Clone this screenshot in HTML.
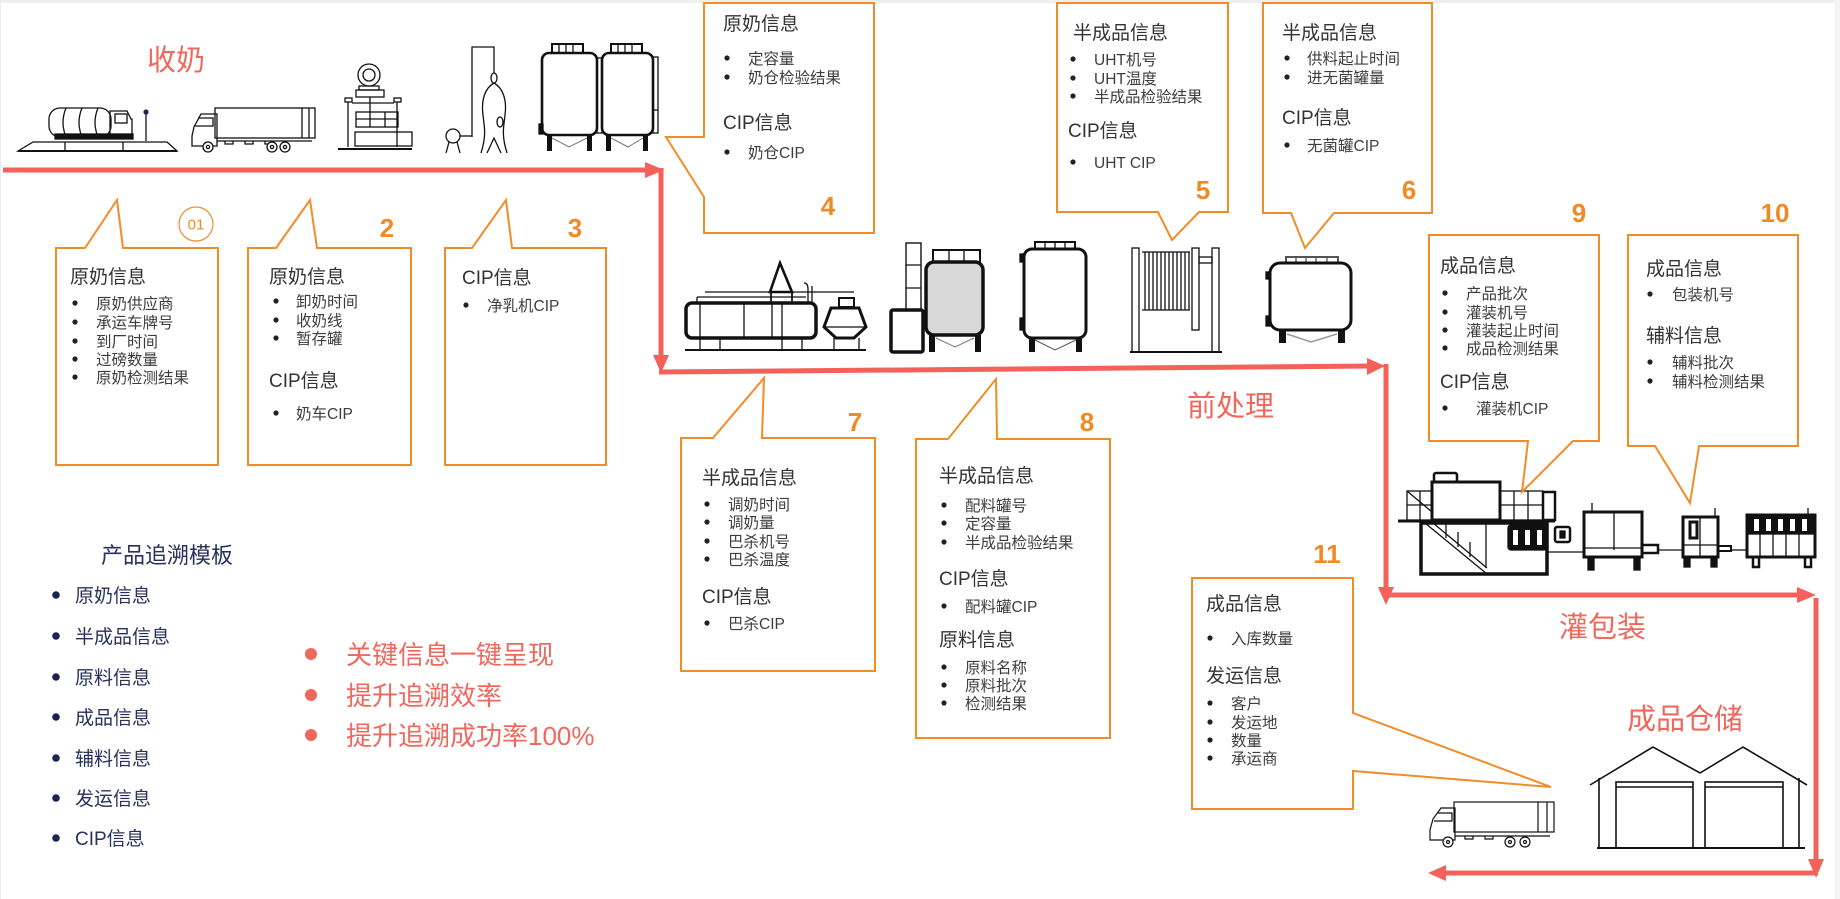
<!DOCTYPE html>
<html lang="zh">
<head>
<meta charset="utf-8">
<style>
html,body{margin:0;padding:0;background:#fff;}
body{width:1840px;height:899px;overflow:hidden;}
svg{display:block;}
.h{font-size:19px;fill:#333;}
.i{font-size:15.5px;fill:#3d3d3d;}
.n{font-size:26px;font-weight:bold;fill:#f08a24;font-family:"Liberation Sans",sans-serif;}
.st{font-size:29px;fill:#f0675c;}
.nv{font-size:19px;fill:#27315c;}
.rd{font-size:26px;fill:#f0675c;}
</style>
</head>
<body>
<svg width="1840" height="899" viewBox="0 0 1840 899" xmlns="http://www.w3.org/2000/svg" font-family="'Liberation Sans','Noto Sans CJK SC',sans-serif">
<rect x="0" y="0" width="1840" height="899" fill="#fff"/>
<rect x="0" y="0" width="1840" height="3" fill="#efefef"/>
<rect x="0" y="0" width="1" height="899" fill="#ececec"/>
<rect x="1835" y="0" width="5" height="899" fill="#f4f4f4"/>

<!-- ============ ROW 1 ICONS ============ -->
<g stroke="#111" fill="none" stroke-width="1.3">
  <!-- tanker on weighbridge -->
  <path d="M18,151 L33,142 L167,142 L177,151 Z"/>
  <line x1="18" y1="151" x2="177" y2="151" stroke-width="2"/>
  <line x1="65" y1="142" x2="65" y2="151"/><line x1="123" y1="142" x2="123" y2="151"/>
  <rect x="49" y="108" width="62" height="29" rx="11"/>
  <path d="M66,108 q-6,14.5 0,29 M82,108 q-6,14.5 0,29 M98,108 q-6,14.5 0,29"/>
  <path d="M110,137 L110,111 L127,111 L131,119 L132,119 L132,137"/>
  <rect x="115" y="114" width="12" height="9"/>
  <rect x="55" y="134" width="78" height="5" fill="#111"/>
  <line x1="146" y1="114" x2="146" y2="141"/>
  <circle cx="146" cy="112" r="2.6" fill="#1f2750" stroke="none"/>
  <!-- box truck -->
  <rect x="215" y="108" width="100" height="30"/>
  <line x1="302" y1="108" x2="302" y2="138"/><line x1="309" y1="108" x2="309" y2="138"/>
  <path d="M217,114 L201,114 L194,127 L192,136 L192,146 L217,146 Z"/>
  <path d="M198,118 L213,118 L213,126 L195,126"/>
  <line x1="217" y1="141" x2="312" y2="141"/>
  <path d="M225,141 v3 h8 v-3 M245,141 v3 h8 v-3 M265,141 v3 h8 v-3"/>
  <circle cx="208" cy="147" r="5" fill="#fff"/><circle cx="208" cy="147" r="1.6"/>
  <circle cx="272" cy="147" r="5" fill="#fff"/><circle cx="272" cy="147" r="1.6"/>
  <circle cx="285" cy="147" r="5" fill="#fff"/><circle cx="285" cy="147" r="1.6"/>
  <!-- scale device -->
  <circle cx="369" cy="75" r="11"/><circle cx="369" cy="75" r="6"/>
  <rect x="359" y="86" width="20" height="4"/>
  <rect x="356" y="90" width="28" height="7"/>
  <rect x="345" y="98" width="7" height="4"/><rect x="394" y="98" width="7" height="4"/>
  <line x1="348" y1="102" x2="348" y2="147"/><line x1="397" y1="102" x2="397" y2="147"/>
  <line x1="352" y1="103" x2="394" y2="103"/>
  <line x1="370" y1="97" x2="370" y2="112"/>
  <rect x="356" y="112" width="42" height="15"/>
  <line x1="370" y1="112" x2="370" y2="127"/><line x1="385" y1="112" x2="385" y2="127"/>
  <line x1="356" y1="119" x2="398" y2="119"/>
  <rect x="355" y="132" width="57" height="14"/>
  <line x1="338" y1="149" x2="412" y2="149" stroke-width="2"/>
  <!-- separator -->
  <path d="M472,137 L472,47 L494,47 L494,73"/>
  <ellipse cx="494" cy="78" rx="3" ry="5"/>
  <path d="M494,83 C485,88 481,100 483,115 C484,126 487,134 481,153"/>
  <path d="M494,83 C503,88 507,100 505,115 C504,126 501,134 507,153"/>
  <path d="M487,153 L494,138 L501,153"/>
  <ellipse cx="500" cy="122" rx="3" ry="5"/>
  <circle cx="453" cy="136" r="7"/>
  <line x1="449" y1="142" x2="446" y2="153"/><line x1="457" y1="142" x2="460" y2="153"/>
  <line x1="460" y1="136" x2="472" y2="136"/>
  <!-- two tanks -->
  <rect x="552" y="44" width="31" height="9" stroke-width="2"/>
  <path d="M559,44 v9 M566,44 v9 M573,44 v9"/>
  <rect x="542" y="53" width="55" height="82" rx="7" stroke-width="2.6"/>
  <rect x="539" y="124" width="4" height="10" fill="#111"/>
  <rect x="597" y="58" width="5" height="75"/>
  <rect x="547" y="135" width="5" height="16" fill="#111" stroke="none"/>
  <rect x="587" y="135" width="5" height="16" fill="#111" stroke="none"/>
  <path d="M552,138 L569,147 L587,138" stroke="#777" stroke-width="1"/>
  <rect x="611" y="44" width="31" height="9" stroke-width="2"/>
  <path d="M618,44 v9 M625,44 v9 M632,44 v9"/>
  <rect x="602" y="53" width="51" height="82" rx="7" stroke-width="2.6"/>
  <rect x="653" y="57" width="5" height="76"/>
  <line x1="653" y1="110" x2="658" y2="110"/>
  <rect x="606" y="135" width="5" height="16" fill="#111" stroke="none"/>
  <rect x="643" y="135" width="5" height="16" fill="#111" stroke="none"/>
  <path d="M611,138 L628,147 L643,138" stroke="#777" stroke-width="1"/>
</g>

<!-- ============ ROW 2 ICONS ============ -->
<g stroke="#111" fill="none" stroke-width="1.3">
  <!-- pasteurizer -->
  <line x1="705" y1="292" x2="854" y2="292"/>
  <line x1="697" y1="297" x2="806" y2="297"/>
  <path d="M697,297 v6 M804,283 q4,0 4,6 v14 M812,286 v17"/>
  <path d="M780,263 L770,292 L792,292 Z" stroke-width="2.6"/>
  <rect x="771" y="292" width="21" height="11" stroke-width="1.8"/>
  <rect x="686" y="303" width="130" height="35" rx="6" stroke-width="3.5"/>
  <path d="M700,303 v35 M744,303 v35 M772,303 v35 M782,303 v35"/>
  <rect x="839" y="298" width="15" height="9" stroke-width="2"/>
  <path d="M831,308 L859,308 L866,327 L854,338 L836,338 L824,327 Z" stroke-width="3"/>
  <line x1="824" y1="327" x2="866" y2="327"/>
  <path d="M700,338 v12 M720,338 v12 M782,338 v12 M802,338 v12 M834,338 v12 M859,338 v12"/>
  <line x1="685" y1="350" x2="866" y2="350" stroke-width="2"/>
  <!-- gray tank with column -->
  <rect x="906" y="243" width="15" height="67" stroke-width="1.4"/>
  <path d="M906,265 h15 M906,288 h15"/>
  <rect x="891" y="310" width="32" height="42" rx="2" stroke-width="3.5"/>
  <rect x="933" y="250" width="47" height="12" stroke-width="2"/>
  <path d="M949,250 v12 M964,250 v12"/>
  <rect x="926" y="262" width="57" height="73" rx="8" fill="#d8d8d8" stroke-width="3.5"/>
  <rect x="929" y="335" width="6" height="17" fill="#111" stroke="none"/>
  <rect x="975" y="335" width="6" height="17" fill="#111" stroke="none"/>
  <path d="M936,338 L955,347 L974,338" stroke="#777" stroke-width="1"/>
  <!-- white tank -->
  <rect x="1035" y="242" width="40" height="7" stroke-width="2"/>
  <path d="M1045,242 v7 M1055,242 v7 M1065,242 v7"/>
  <rect x="1024" y="249" width="62" height="89" rx="8" stroke-width="3"/>
  <rect x="1020" y="254" width="4" height="8" fill="#111"/>
  <rect x="1020" y="318" width="4" height="12" fill="#111"/>
  <rect x="1029" y="338" width="6" height="14" fill="#111" stroke="none"/>
  <rect x="1076" y="338" width="6" height="14" fill="#111" stroke="none"/>
  <path d="M1035,340 L1055,350 L1076,340" stroke="#555" stroke-width="1"/>
  <!-- plate heat exchanger -->
  <rect x="1132" y="248" width="7" height="104"/>
  <rect x="1212" y="248" width="7" height="104"/>
  <rect x="1192" y="248" width="7" height="82"/>
  <rect x="1199" y="257" width="13" height="6"/>
  <path d="M1142,252 h48 M1142,310 h48"/>
  <path d="M1145,252 v58 M1149,252 v58 M1153,252 v58 M1157,252 v58 M1161,252 v58 M1165,252 v58 M1169,252 v58 M1173,252 v58 M1177,252 v58 M1181,252 v58 M1185,252 v58 M1189,252 v58"/>
  <line x1="1130" y1="352" x2="1222" y2="352" stroke-width="2"/>
  <!-- aseptic tank -->
  <rect x="1286" y="257" width="52" height="6" stroke-width="2" stroke="#555"/>
  <path d="M1296,257 v6 M1306,257 v6 M1316,257 v6 M1327,257 v6" stroke="#555"/>
  <rect x="1270" y="263" width="81" height="67" rx="10" stroke-width="3"/>
  <rect x="1266" y="272" width="4" height="7" fill="#111"/>
  <rect x="1266" y="316" width="4" height="10" fill="#111"/>
  <rect x="1279" y="330" width="7" height="13" fill="#111" stroke="none"/>
  <rect x="1338" y="330" width="7" height="13" fill="#111" stroke="none"/>
  <path d="M1287,334 L1311,342 L1337,334" stroke="#999" stroke-width="1.5"/>
</g>

<!-- ============ PACKAGING ICONS ============ -->
<g stroke="#111" fill="none" stroke-width="1.3">
  <rect x="1407" y="491" width="25" height="29"/>
  <path d="M1420,491 v29 M1407,505 h25 M1407,491 L1432,512"/>
  <rect x="1500" y="491" width="43" height="29"/>
  <path d="M1514,491 v29 M1528,491 v29 M1500,505 h43"/>
  <rect x="1434" y="473" width="23" height="9" rx="2" stroke-width="2.5"/>
  <rect x="1432" y="482" width="68" height="38" stroke-width="3"/>
  <rect x="1543" y="492" width="12" height="28" stroke-width="2.5"/>
  <line x1="1398" y1="521" x2="1555" y2="521" stroke-width="3"/>
  <rect x="1421" y="523" width="126" height="51" stroke-width="3.5"/>
  <path d="M1425,523 L1487,574 M1433,523 L1487,568"/>
  <path d="M1446,523 v15 M1458,532 v15 M1470,542 v15 M1486,523 v45"/>
  <rect x="1508" y="525" width="39" height="25" rx="3" fill="#111"/>
  <rect x="1513" y="530" width="5" height="15" fill="#fff" stroke="none"/>
  <rect x="1525" y="530" width="5" height="15" fill="#fff" stroke="none"/>
  <rect x="1537" y="530" width="5" height="15" fill="#fff" stroke="none"/>
  <rect x="1555" y="527" width="15" height="15" rx="2" stroke-width="2.5"/>
  <rect x="1560" y="531" width="5" height="7" fill="#111"/>
  <line x1="1547" y1="552" x2="1585" y2="552"/>
  <!-- machine 2 -->
  <line x1="1592" y1="503" x2="1592" y2="512"/>
  <rect x="1584" y="512" width="58" height="45" stroke-width="3"/>
  <path d="M1614,512 v38 M1584,548 h58"/>
  <rect x="1642" y="545" width="16" height="8" stroke-width="2.5"/>
  <rect x="1588" y="557" width="6" height="13" fill="#111"/>
  <rect x="1634" y="557" width="6" height="13" fill="#111"/>
  <line x1="1658" y1="550" x2="1683" y2="550"/>
  <!-- machine 3 -->
  <line x1="1715" y1="508" x2="1715" y2="517"/>
  <rect x="1683" y="517" width="35" height="40" stroke-width="3"/>
  <rect x="1690" y="522" width="7" height="16" stroke-width="3"/>
  <path d="M1683,545 h35 M1700,517 v40"/>
  <rect x="1718" y="546" width="13" height="5" stroke-width="2"/>
  <rect x="1684" y="557" width="6" height="10" fill="#111"/>
  <rect x="1711" y="557" width="6" height="10" fill="#111"/>
  <line x1="1731" y1="550" x2="1747" y2="550"/>
  <!-- machine 4 -->
  <line x1="1808" y1="508" x2="1808" y2="515"/>
  <rect x="1747" y="515" width="68" height="42" stroke-width="3"/>
  <rect x="1747" y="515" width="68" height="19" fill="#111"/>
  <rect x="1754" y="519" width="5" height="12" fill="#fff" stroke="none"/>
  <rect x="1766" y="519" width="5" height="12" fill="#fff" stroke="none"/>
  <rect x="1778" y="519" width="5" height="12" fill="#fff" stroke="none"/>
  <rect x="1790" y="519" width="5" height="12" fill="#fff" stroke="none"/>
  <rect x="1802" y="519" width="5" height="12" fill="#fff" stroke="none"/>
  <path d="M1760,534 v23 M1773,534 v23 M1786,534 v23 M1799,534 v23"/>
  <rect x="1753" y="557" width="6" height="10" stroke-width="2.5"/>
  <rect x="1805" y="557" width="6" height="10" stroke-width="2.5"/>
</g>

<!-- ============ WAREHOUSE + TRUCK ============ -->
<g stroke="#111" fill="none" stroke-width="1.6">
  <polyline points="1590,785 1653,747 1700,773 1743,747 1807,785"/>
  <path d="M1599,778 V848 M1799,778 V848"/>
  <line x1="1597" y1="848" x2="1805" y2="848" stroke-width="2"/>
  <rect x="1616" y="782" width="77" height="66"/>
  <line x1="1616" y1="787" x2="1693" y2="787"/>
  <rect x="1705" y="782" width="78" height="66"/>
  <line x1="1705" y1="787" x2="1783" y2="787"/>
</g>
<g stroke="#111" fill="none" stroke-width="1.2">
  <rect x="1454" y="802" width="100" height="30"/>
  <path d="M1538,802 v30 M1547,802 v30"/>
  <path d="M1455,808 L1441,808 L1433,819 L1430,830 L1430,840 L1455,840 Z"/>
  <path d="M1437,813 L1452,813 L1452,821 L1434,821"/>
  <line x1="1455" y1="836" x2="1550" y2="836"/>
  <path d="M1465,836 v3 h8 v-3 M1485,836 v3 h8 v-3"/>
  <circle cx="1448" cy="842" r="5" fill="#fff"/><circle cx="1448" cy="842" r="1.5"/>
  <circle cx="1510" cy="842" r="5" fill="#fff"/><circle cx="1510" cy="842" r="1.5"/>
  <circle cx="1525" cy="842" r="5" fill="#fff"/><circle cx="1525" cy="842" r="1.5"/>
</g>

<!-- ============ RED FLOW ARROWS ============ -->
<g stroke="#f4605a" stroke-width="5" fill="none" stroke-linecap="butt">
  <line x1="3" y1="170" x2="650" y2="170"/>
  <line x1="661" y1="168" x2="661" y2="358"/>
  <line x1="659" y1="372" x2="1372" y2="366"/>
  <line x1="1386" y1="364" x2="1386" y2="590"/>
  <line x1="1384" y1="595" x2="1800" y2="595"/>
  <line x1="1816" y1="598" x2="1816" y2="862"/>
  <line x1="1818" y1="873" x2="1442" y2="873"/>
</g>
<g fill="#f4605a">
  <polygon points="645,162 664,170 645,178"/>
  <polygon points="653,355 661,373 669,355"/>
  <polygon points="1367,358 1385,366 1367,375"/>
  <polygon points="1378,587 1386,605 1394,587"/>
  <polygon points="1797,587 1816,595 1797,603"/>
  <polygon points="1808,859 1816,878 1824,859"/>
  <polygon points="1446,865 1428,873 1446,881"/>
</g>

<!-- ============ CALLOUT BOXES ============ -->
<g stroke="#f28c28" stroke-width="2" fill="none" stroke-linejoin="miter">
  <path d="M56,248 L85,248 L117,200 L123,248 L218,248 L218,465 L56,465 Z"/>
  <path d="M248,248 L276,248 L310,200 L317,248 L411,248 L411,465 L248,465 Z"/>
  <path d="M445,248 L472,248 L506,200 L512,248 L606,248 L606,465 L445,465 Z"/>
  <path d="M704,3 L874,3 L874,233 L704,233 L704,197 L666,137 L704,137 Z"/>
  <path d="M1057,3 L1228,3 L1228,212 L1199,212 L1172,240 L1158,212 L1057,212 Z"/>
  <path d="M1263,3 L1432,3 L1432,213 L1334,213 L1305,248 L1291,213 L1263,213 Z"/>
  <path d="M681,438 L713,438 L764,378 L762,438 L875,438 L875,671 L681,671 Z"/>
  <path d="M916,439 L948,439 L996,379 L997,439 L1110,439 L1110,738 L916,738 Z"/>
  <path d="M1429,235 L1599,235 L1599,441 L1573,441 L1522,492 L1528,441 L1429,441 Z"/>
  <path d="M1628,235 L1798,235 L1798,446 L1699,446 L1690,503 L1655,446 L1628,446 Z"/>
  <path d="M1192,578 L1353,578 L1353,713 L1551,787 L1353,771 L1353,809 L1192,809 Z"/>
  <circle cx="196" cy="224" r="17" stroke-width="1.2"/>
</g>

<!-- numbers -->
<text x="196" y="229.5" text-anchor="middle" font-size="15" fill="#f08a24" font-family="'Liberation Sans',sans-serif">01</text>
<text class="n" x="387" y="237" text-anchor="middle">2</text>
<text class="n" x="575" y="237" text-anchor="middle">3</text>
<text class="n" x="828" y="215" text-anchor="middle">4</text>
<text class="n" x="1203" y="199" text-anchor="middle">5</text>
<text class="n" x="1409" y="199" text-anchor="middle">6</text>
<text class="n" x="855" y="431" text-anchor="middle">7</text>
<text class="n" x="1087" y="431" text-anchor="middle">8</text>
<text class="n" x="1579" y="222" text-anchor="middle">9</text>
<text class="n" x="1775" y="222" text-anchor="middle">10</text>
<text class="n" x="1327" y="563" text-anchor="middle">11</text>

<!-- box texts -->
<g fill="#222">
  <!-- box 01 -->
  <circle cx="75" cy="303" r="2.6"/><circle cx="75" cy="322" r="2.6"/><circle cx="75" cy="341" r="2.6"/><circle cx="75" cy="359" r="2.6"/><circle cx="75" cy="377" r="2.6"/>
  <!-- box 2 -->
  <circle cx="276" cy="301" r="2.6"/><circle cx="276" cy="320" r="2.6"/><circle cx="276" cy="338" r="2.6"/><circle cx="276" cy="413" r="2.6"/>
  <!-- box 3 -->
  <circle cx="466" cy="305" r="2.6"/>
  <!-- box 4 -->
  <circle cx="727" cy="58" r="2.6"/><circle cx="727" cy="77" r="2.6"/><circle cx="727" cy="152" r="2.6"/>
  <!-- box 5 -->
  <circle cx="1073" cy="59" r="2.6"/><circle cx="1073" cy="78" r="2.6"/><circle cx="1073" cy="96" r="2.6"/><circle cx="1073" cy="162" r="2.6"/>
  <!-- box 6 -->
  <circle cx="1287" cy="58" r="2.6"/><circle cx="1287" cy="77" r="2.6"/><circle cx="1287" cy="145" r="2.6"/>
  <!-- box 7 -->
  <circle cx="707" cy="504" r="2.6"/><circle cx="707" cy="522" r="2.6"/><circle cx="707" cy="541" r="2.6"/><circle cx="707" cy="559" r="2.6"/><circle cx="707" cy="623" r="2.6"/>
  <!-- box 8 -->
  <circle cx="944" cy="505" r="2.6"/><circle cx="944" cy="523" r="2.6"/><circle cx="944" cy="542" r="2.6"/><circle cx="944" cy="606" r="2.6"/>
  <circle cx="944" cy="667" r="2.6"/><circle cx="944" cy="685" r="2.6"/><circle cx="944" cy="703" r="2.6"/>
  <!-- box 9 -->
  <circle cx="1445" cy="293" r="2.6"/><circle cx="1445" cy="312" r="2.6"/><circle cx="1445" cy="330" r="2.6"/><circle cx="1445" cy="348" r="2.6"/><circle cx="1445" cy="408" r="2.6"/>
  <!-- box 10 -->
  <circle cx="1650" cy="294" r="2.6"/><circle cx="1650" cy="362" r="2.6"/><circle cx="1650" cy="381" r="2.6"/>
  <!-- box 11 -->
  <circle cx="1210" cy="638" r="2.6"/><circle cx="1210" cy="703" r="2.6"/><circle cx="1210" cy="722" r="2.6"/><circle cx="1210" cy="740" r="2.6"/><circle cx="1210" cy="758" r="2.6"/>
</g>

<!-- box 01 -->
<text class="h" x="70" y="283">原奶信息</text>
<text class="i" x="96" y="309">原奶供应商</text>
<text class="i" x="96" y="328">承运车牌号</text>
<text class="i" x="96" y="347">到厂时间</text>
<text class="i" x="96" y="365">过磅数量</text>
<text class="i" x="96" y="383">原奶检测结果</text>
<!-- box 2 -->
<text class="h" x="269" y="283">原奶信息</text>
<text class="i" x="296" y="307">卸奶时间</text>
<text class="i" x="296" y="326">收奶线</text>
<text class="i" x="296" y="344">暂存罐</text>
<text class="h" x="269" y="387">CIP信息</text>
<text class="i" x="296" y="419">奶车CIP</text>
<!-- box 3 -->
<text class="h" x="462" y="284">CIP信息</text>
<text class="i" x="487" y="311">净乳机CIP</text>
<!-- box 4 -->
<text class="h" x="723" y="30">原奶信息</text>
<text class="i" x="748" y="64">定容量</text>
<text class="i" x="748" y="83">奶仓检验结果</text>
<text class="h" x="723" y="129">CIP信息</text>
<text class="i" x="748" y="158">奶仓CIP</text>
<!-- box 5 -->
<text class="h" x="1073" y="39">半成品信息</text>
<text class="i" x="1094" y="65">UHT机号</text>
<text class="i" x="1094" y="84">UHT温度</text>
<text class="i" x="1094" y="102">半成品检验结果</text>
<text class="h" x="1068" y="137">CIP信息</text>
<text class="i" x="1094" y="168">UHT CIP</text>
<!-- box 6 -->
<text class="h" x="1282" y="39">半成品信息</text>
<text class="i" x="1307" y="64">供料起止时间</text>
<text class="i" x="1307" y="83">进无菌罐量</text>
<text class="h" x="1282" y="124">CIP信息</text>
<text class="i" x="1307" y="151">无菌罐CIP</text>
<!-- box 7 -->
<text class="h" x="702" y="484">半成品信息</text>
<text class="i" x="728" y="510">调奶时间</text>
<text class="i" x="728" y="528">调奶量</text>
<text class="i" x="728" y="547">巴杀机号</text>
<text class="i" x="728" y="565">巴杀温度</text>
<text class="h" x="702" y="603">CIP信息</text>
<text class="i" x="728" y="629">巴杀CIP</text>
<!-- box 8 -->
<text class="h" x="939" y="482">半成品信息</text>
<text class="i" x="965" y="511">配料罐号</text>
<text class="i" x="965" y="529">定容量</text>
<text class="i" x="965" y="548">半成品检验结果</text>
<text class="h" x="939" y="585">CIP信息</text>
<text class="i" x="965" y="612">配料罐CIP</text>
<text class="h" x="939" y="646">原料信息</text>
<text class="i" x="965" y="673">原料名称</text>
<text class="i" x="965" y="691">原料批次</text>
<text class="i" x="965" y="709">检测结果</text>
<!-- box 9 -->
<text class="h" x="1440" y="272">成品信息</text>
<text class="i" x="1466" y="299">产品批次</text>
<text class="i" x="1466" y="318">灌装机号</text>
<text class="i" x="1466" y="336">灌装起止时间</text>
<text class="i" x="1466" y="354">成品检测结果</text>
<text class="h" x="1440" y="388">CIP信息</text>
<text class="i" x="1476" y="414">灌装机CIP</text>
<!-- box 10 -->
<text class="h" x="1646" y="275">成品信息</text>
<text class="i" x="1672" y="300">包装机号</text>
<text class="h" x="1646" y="342">辅料信息</text>
<text class="i" x="1672" y="368">辅料批次</text>
<text class="i" x="1672" y="387">辅料检测结果</text>
<!-- box 11 -->
<text class="h" x="1206" y="610">成品信息</text>
<text class="i" x="1231" y="644">入库数量</text>
<text class="h" x="1206" y="682">发运信息</text>
<text class="i" x="1231" y="709">客户</text>
<text class="i" x="1231" y="728">发运地</text>
<text class="i" x="1231" y="746">数量</text>
<text class="i" x="1231" y="764">承运商</text>

<!-- stage labels -->
<text class="st" x="147" y="70">收奶</text>
<text class="st" x="1187" y="416">前处理</text>
<text class="st" x="1559" y="637">灌包装</text>
<text class="st" x="1627" y="729">成品仓储</text>

<!-- left navy list -->
<text x="101" y="563" font-size="22" fill="#27315c">产品追溯模板</text>
<g fill="#1a2352">
  <circle cx="56" cy="595" r="3.8"/><circle cx="56" cy="636" r="3.8"/><circle cx="56" cy="677" r="3.8"/><circle cx="56" cy="717" r="3.8"/><circle cx="56" cy="758" r="3.8"/><circle cx="56" cy="798" r="3.8"/><circle cx="56" cy="838" r="3.8"/>
</g>
<text class="nv" x="75" y="602">原奶信息</text>
<text class="nv" x="75" y="643">半成品信息</text>
<text class="nv" x="75" y="684">原料信息</text>
<text class="nv" x="75" y="724">成品信息</text>
<text class="nv" x="75" y="765">辅料信息</text>
<text class="nv" x="75" y="805">发运信息</text>
<text class="nv" x="75" y="845">CIP信息</text>

<!-- red key list -->
<g fill="#f0675c">
  <circle cx="311" cy="654" r="6"/><circle cx="311" cy="695" r="6"/><circle cx="311" cy="735" r="6"/>
</g>
<text class="rd" x="346" y="664">关键信息一键呈现</text>
<text class="rd" x="346" y="705">提升追溯效率</text>
<text class="rd" x="346" y="745">提升追溯成功率100%</text>
</svg>
</body>
</html>
